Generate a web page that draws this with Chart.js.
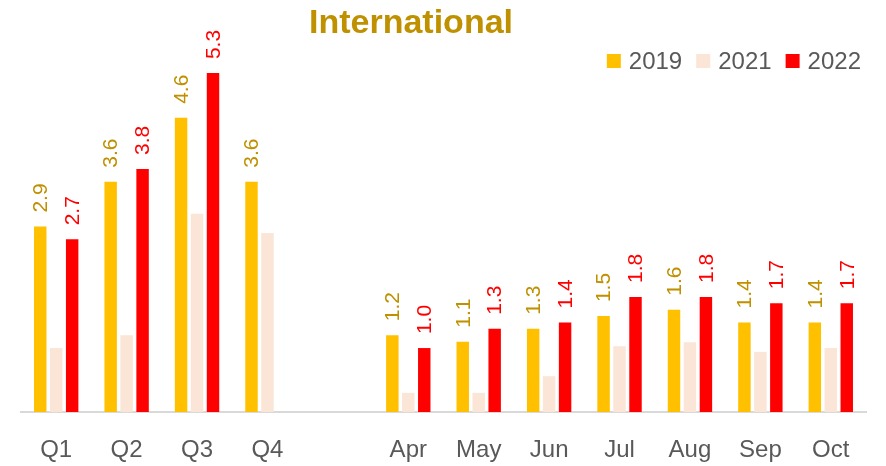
<!DOCTYPE html>
<html>
<head>
<meta charset="utf-8">
<script src="https://cdn.jsdelivr.net/npm/chart.js@4"></script>
<style>
  html, body { margin: 0; padding: 0; background: #ffffff; }
  #wrap { width: 886px; height: 466px; }
</style>
</head>
<body>
<div id="wrap"><canvas id="c" width="886" height="466"></canvas></div>
<script>
const categories = ['Q1', 'Q2', 'Q3', 'Q4', '', 'Apr', 'May', 'Jun', 'Jul', 'Aug', 'Sep', 'Oct'];
const seriesNames = ['2019', '2021', '2022'];
const values2019 = [2.9, 3.6, 4.6, 3.6, null, 1.2, 1.1, 1.3, 1.5, 1.6, 1.4, 1.4];
const values2021 = [1.0, 1.2, 3.1, 2.8, null, 0.3, 0.3, 0.56, 1.03, 1.09, 0.94, 1.0];
const values2022 = [2.7, 3.8, 5.3, null, null, 1.0, 1.3, 1.4, 1.8, 1.8, 1.7, 1.7];
const chartTitle = 'International';

const FONT = "'Liberation Sans', Arial, sans-serif";

const titlePlugin = {
  id: 'customTitle',
  afterDraw(chart) {
    const ctx = chart.ctx;
    ctx.save();
    ctx.font = "bold 34px " + FONT;
    ctx.fillStyle = '#BF9000';
    ctx.textAlign = 'center';
    ctx.textBaseline = 'alphabetic';
    ctx.fillText(chartTitle, 411, 33);
    ctx.restore();
  }
};

const legendPlugin = {
  id: 'customLegend',
  afterDraw(chart) {
    const ctx = chart.ctx;
    ctx.save();
    ctx.font = "24px " + FONT;
    ctx.textBaseline = 'alphabetic';
    ctx.textAlign = 'left';
    const ds = chart.data.datasets;
    const widths = ds.map(d => ctx.measureText(d.label).width);
    let x = 861;
    const xs = [];
    for (let i = ds.length - 1; i >= 0; i--) {
      const itemW = 14 + 8 + widths[i];
      x -= itemW;
      xs[i] = x;
      x -= 14;
    }
    ds.forEach((d, i) => {
      ctx.fillStyle = d.backgroundColor;
      ctx.fillRect(xs[i], 54, 14, 14);
      ctx.fillStyle = '#595959';
      ctx.fillText(d.label, xs[i] + 22, 69);
    });
    ctx.restore();
  }
};

const labelPlugin = {
  id: 'barLabels',
  afterDatasetsDraw(chart) {
    const ctx = chart.ctx;
    const colors = {0: '#BF9000', 2: '#FF0000'};
    [0, 2].forEach(di => {
      const meta = chart.getDatasetMeta(di);
      const data = chart.data.datasets[di].data;
      meta.data.forEach((bar, i) => {
        const v = data[i];
        if (v === null || v === undefined) return;
        ctx.save();
        ctx.translate(bar.x, bar.y - 14);
        ctx.rotate(-Math.PI / 2);
        ctx.font = "21px " + FONT;
        ctx.fillStyle = colors[di];
        ctx.textAlign = 'left';
        ctx.textBaseline = 'middle';
        ctx.fillText(v.toFixed(1), 0, 1);
        ctx.restore();
      });
    });
  }
};

new Chart(document.getElementById('c'), {
  type: 'bar',
  data: {
    labels: categories,
    datasets: [
      { label: seriesNames[0], data: values2019, backgroundColor: '#FFC000' },
      { label: seriesNames[1], data: values2021, backgroundColor: '#FBE5D6' },
      { label: seriesNames[2], data: values2022, backgroundColor: '#FF0000' }
    ]
  },
  options: {
    responsive: false,
    animation: false,
    devicePixelRatio: 1,
    layout: { padding: { top: 36, left: 21, right: 20, bottom: 0 } },
    datasets: { bar: { categoryPercentage: 0.68, barPercentage: 0.78 } },
    scales: {
      x: {
        grid: { display: false },
        border: { display: true, color: '#D9D9D9', width: 2 },
        ticks: { color: '#595959', font: { family: FONT, size: 24 }, padding: 16, maxRotation: 0, autoSkip: false },
        afterFit: (scale) => { scale.height = 54; }
      },
      y: {
        display: false,
        min: 0,
        max: 5.88
      }
    },
    plugins: {
      title: { display: false },
      tooltip: { enabled: false },
      legend: { display: false }
    }
  },
  plugins: [titlePlugin, legendPlugin, labelPlugin]
});
</script>
</body>
</html>
